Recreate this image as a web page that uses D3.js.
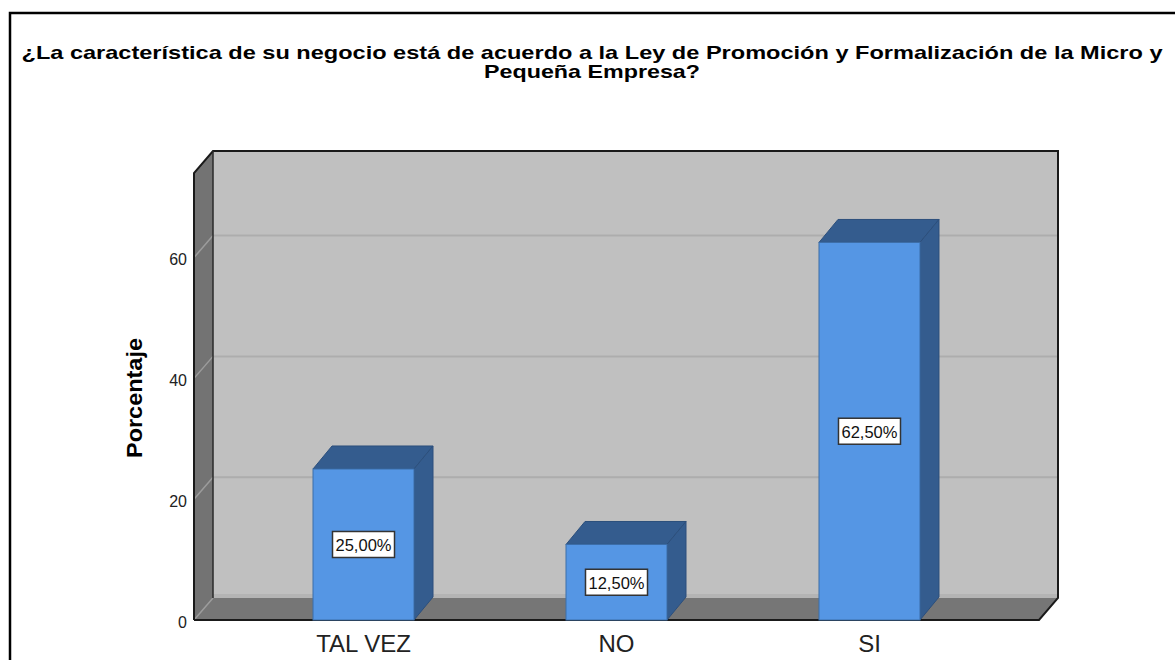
<!DOCTYPE html>
<html>
<head>
<meta charset="utf-8">
<script src="https://cdn.jsdelivr.net/npm/d3@7"></script>
<style>
  body { margin: 0; background: #fff; }
  text { font-family: "Liberation Sans", Arial, sans-serif; }
</style>
</head>
<body>
<div id="chart"></div>
<script>
var categories = ["TAL VEZ", "NO", "SI"];
var percentages = [25.0, 12.5, 62.5];
var valueLabels = ["25,00%", "12,50%", "62,50%"];
var yTicks = [0, 20, 40, 60];
var yMax = 74;
var titleLines = [
    "¿La característica de su negocio está de acuerdo a la Ley de Promoción y Formalización de la Micro y",
    "Pequeña Empresa?"
];
var yTitle = "Porcentaje";

function init() {
    var w = 1175;
    var h = 660;

    var svg = d3.select("#chart").append("svg")
                .attr("width", w)
                .attr("height", h);

    // outer frame (runs off right and bottom)
    svg.append("rect")
       .attr("x", 10).attr("y", 13)
       .attr("width", 1200).attr("height", 700)
       .attr("fill", "none")
       .attr("stroke", "#000")
       .attr("stroke-width", 2.5);

    // title - the original is rendered wide, so stretch it to its measured widths
    var titleWidths = [1141, 216];
    svg.selectAll(".title")
       .data(titleLines)
       .enter().append("text")
       .attr("class", "title")
       .attr("x", 592)
       .attr("y", (d, i) => 59 + i * 19)
       .attr("text-anchor", "middle")
       .attr("textLength", (d, i) => titleWidths[i])
       .attr("lengthAdjust", "spacingAndGlyphs")
       .style("font-size", "19px")
       .style("font-weight", "bold")
       .attr("fill", "#000")
       .text(d => d);

    var left = 194, right = 1039, bottom = 620, top = 173;
    var dx = 19, dy = 22;       // wall depth
    var bdx = 19, bdy = 23;     // bar depth
    var barW = 101;

    var xScale = d3.scalePoint()
                   .domain(categories)
                   .range([left, right])
                   .padding(0.67);

    var yScale = d3.scaleLinear()
                   .domain([0, yMax])
                   .range([bottom, top]);

    var yTop = yScale(yMax);
    var line = d3.line();

    // back wall
    svg.append("rect")
       .attr("x", left + dx).attr("y", yTop - dy)
       .attr("width", right - left).attr("height", bottom - yTop)
       .attr("fill", "#c0c0c0");

    // lighter strip where back wall meets floor
    svg.append("rect")
       .attr("x", left + dx).attr("y", bottom - dy - 4)
       .attr("width", right - left).attr("height", 4)
       .attr("fill", "#b4b4b4");

    // left side wall
    svg.append("path")
       .attr("d", line([[left, yTop], [left + dx, yTop - dy], [left + dx, bottom - dy], [left, bottom]]) + "Z")
       .attr("fill", "#737373");

    // floor
    svg.append("path")
       .attr("d", line([[left, bottom], [left + dx, bottom - dy], [right + dx, bottom - dy], [right, bottom]]) + "Z")
       .attr("fill", "#767676");

    // gridlines
    yTicks.forEach(function(t) {
        var y = yScale(t);
        svg.append("path")
           .attr("d", line([[left, y], [left + dx, y - dy]]))
           .attr("stroke", "#9c9c9c").attr("stroke-width", 1.5).attr("fill", "none");
        if (t > 0) {
            svg.append("path")
               .attr("d", line([[left + dx, y - dy], [right + dx, y - dy]]))
               .attr("stroke", "#adadad").attr("stroke-width", 2).attr("fill", "none");
        }
    });

    // wall edges
    svg.append("path")
       .attr("d", line([[left, bottom], [left, yTop], [left + dx, yTop - dy], [right + dx, yTop - dy], [right + dx, bottom - dy], [right, bottom], [left, bottom]]))
       .attr("stroke", "#1a1a1a").attr("stroke-width", 2).attr("fill", "none");
    svg.append("path")
       .attr("d", line([[left + dx, yTop - dy], [left + dx, bottom - dy]]))
       .attr("stroke", "#2a2a2a").attr("stroke-width", 1.5).attr("fill", "none");

    // y tick labels
    svg.selectAll(".ytick")
       .data(yTicks)
       .enter().append("text")
       .attr("class", "ytick")
       .attr("x", left - 7)
       .attr("y", d => yScale(d) + 2)
       .attr("text-anchor", "end")
       .attr("dominant-baseline", "central")
       .style("font-size", "16px")
       .attr("fill", "#222")
       .text(d => d);

    // y axis title
    svg.append("text")
       .attr("transform", "translate(134," + 398 + ") rotate(-90)")
       .attr("text-anchor", "middle")
       .attr("dominant-baseline", "central")
       .attr("textLength", 120)
       .attr("lengthAdjust", "spacingAndGlyphs")
       .style("font-size", "22px")
       .style("font-weight", "bold")
       .attr("fill", "#000")
       .text(yTitle);

    // bars
    var bars = svg.selectAll(".bar")
                  .data(categories.map((c, i) => ({ cat: c, val: percentages[i], lab: valueLabels[i] })))
                  .enter().append("g")
                  .attr("class", "bar");

    bars.append("path")   // top face
        .attr("d", function(d) {
            var x0 = xScale(d.cat) - barW / 2, x1 = x0 + barW, y = yScale(d.val);
            return line([[x0, y], [x0 + bdx, y - bdy], [x1 + bdx, y - bdy], [x1, y]]) + "Z";
        })
        .attr("fill", "#345c8e").attr("stroke", "#2c4f7c").attr("stroke-width", 1);

    bars.append("path")   // side face
        .attr("d", function(d) {
            var x1 = xScale(d.cat) + barW / 2, y = yScale(d.val);
            return line([[x1, y], [x1 + bdx, y - bdy], [x1 + bdx, bottom - bdy], [x1, bottom]]) + "Z";
        })
        .attr("fill", "#345c8e").attr("stroke", "#2c4f7c").attr("stroke-width", 1);

    bars.append("rect")   // front face
        .attr("x", d => xScale(d.cat) - barW / 2)
        .attr("y", d => yScale(d.val))
        .attr("width", barW)
        .attr("height", d => bottom - yScale(d.val))
        .attr("fill", "#5596e4")
        .attr("stroke", "#3d6ea8").attr("stroke-width", 1);

    // value labels
    bars.append("rect")
        .attr("x", d => xScale(d.cat) - 31)
        .attr("y", d => (yScale(d.val) + bottom) / 2 - 13)
        .attr("width", 62).attr("height", 26)
        .attr("fill", "#fff")
        .attr("stroke", "#333").attr("stroke-width", 1.5);

    bars.append("text")
        .attr("x", d => xScale(d.cat))
        .attr("y", d => (yScale(d.val) + bottom) / 2 + 1)
        .attr("text-anchor", "middle")
        .attr("dominant-baseline", "central")
        .style("font-size", "16.5px")
        .attr("fill", "#111")
        .text(d => d.lab);

    // category labels
    svg.selectAll(".xlab")
       .data(categories)
       .enter().append("text")
       .attr("class", "xlab")
       .attr("x", d => xScale(d))
       .attr("y", 643)
       .attr("text-anchor", "middle")
       .attr("dominant-baseline", "central")
       .style("font-size", "24px")
       .attr("fill", "#222")
       .text(d => d);
}

window.onload = init;
</script>
</body>
</html>
